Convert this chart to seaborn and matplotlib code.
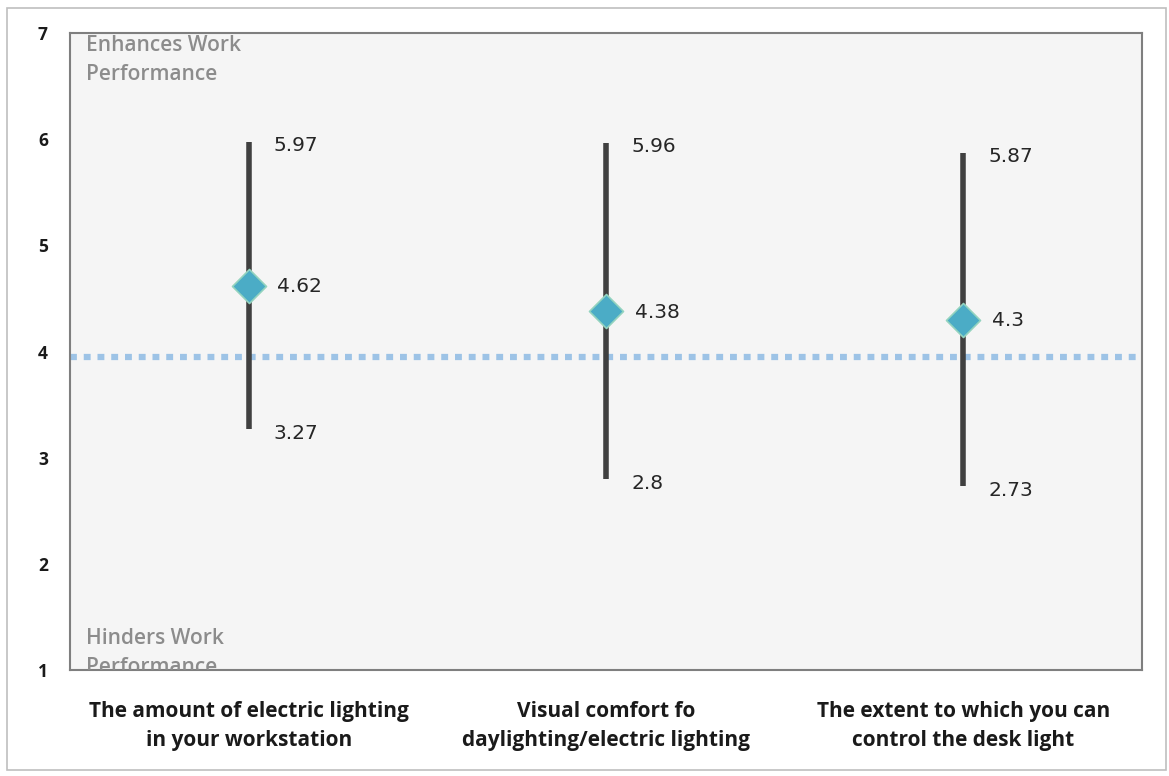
import matplotlib
matplotlib.use("Agg")
import matplotlib.pyplot as plt
import seaborn as sns
import pandas as pd
from matplotlib.patches import Rectangle

categories = ["The amount of electric lighting\nin your workstation",
              "Visual comfort fo\ndaylighting/electric lighting",
              "The extent to which you can\ncontrol the desk light"]
max_vals = [5.97, 5.96, 5.87]
mean_vals = [4.62, 4.38, 4.3]
min_vals = [3.27, 2.8, 2.73]
reference_level = 3.95
yticks = [1, 2, 3, 4, 5, 6, 7]

df = pd.DataFrame({"cat": categories, "max": max_vals, "mean": mean_vals, "min": min_vals})
df["x"] = range(len(df))

sns.set_theme(style="white")
plt.rcParams['font.family'] = ['Open Sans', 'DejaVu Sans']

fig = plt.figure(figsize=(11.69, 7.76), dpi=100)
fig.patches.append(Rectangle((7/1169, 1-770/776), 1159/1169, 762/776, transform=fig.transFigure,
                             fill=False, edgecolor="#bfbfbf", linewidth=1.2))
ax = fig.add_axes([70/1169, 1-670/776, 1072/1169, 637/776])
ax.set_facecolor("#f5f5f5")

ax.axhline(reference_level, color="#9dc3e6", linewidth=4.5, linestyle=(0, (1.1, 1.1)), zorder=1)
ax.vlines(df["x"], df["min"], df["max"], color="#404040", linewidth=4, zorder=2)
sns.scatterplot(data=df, x="x", y="mean", marker="D", s=300, color="#4bacc6",
                edgecolor="#93d3bf", linewidth=1.2, ax=ax, zorder=3, legend=False)

vfont = dict(family=["DejaVu Sans"], fontsize=14.5, color="#262626", va="center", ha="left")
for _, r in df.iterrows():
    ax.text(r["x"] + 0.07, r["max"] - 0.03, f"{r['max']:g}", **vfont)
    ax.text(r["x"] + 0.07, r["min"] - 0.04, f"{r['min']:g}", **vfont)
    ax.text(r["x"] + 0.08, r["mean"] - 0.01, f"{r['mean']:g}", **vfont)

ax.text(0.015, 0.997, "Enhances Work\nPerformance", transform=ax.transAxes, ha="left", va="top",
        fontsize=15, color="#8c8c8c", fontweight="semibold", linespacing=1.5)
ax.text(0.015, -0.012, "Hinders Work\nPerformance", transform=ax.transAxes, ha="left", va="bottom",
        fontsize=15, color="#8c8c8c", fontweight="semibold", linespacing=1.5, clip_on=True)

ax.set_xlim(-0.5, 2.5)
ax.set_ylim(1, 7)
ax.set_yticks(yticks)
ax.set_yticklabels([str(t) for t in yticks], fontweight="bold", fontsize=12.5, color="#1a1a1a")
ax.set_xticks(df["x"])
ax.set_xticklabels(categories, fontweight="bold", fontsize=15, color="#1a1a1a", linespacing=1.55)
ax.tick_params(axis="y", length=0, pad=16)
ax.tick_params(axis="x", length=0, pad=22)
ax.set_xlabel("")
ax.set_ylabel("")
for s in ax.spines.values():
    s.set_color("#7f7f7f")
    s.set_linewidth(1.5)

fig.savefig("out.png", dpi=100)
